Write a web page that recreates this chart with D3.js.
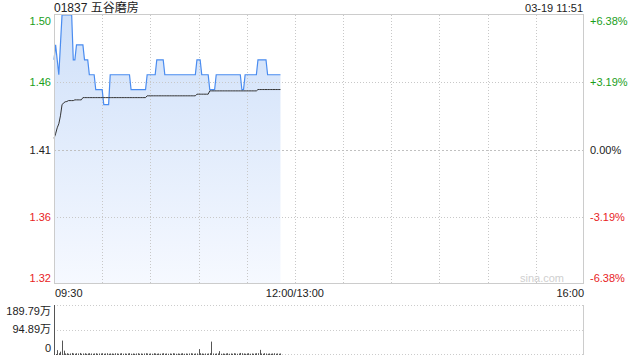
<!DOCTYPE html>
<html>
<head>
<meta charset="utf-8">
<script src="https://cdn.jsdelivr.net/npm/d3@7"></script>
<style>
  body { margin: 0; background: #fff; }
  text { font-family: "Liberation Sans", Arial, "Noto Sans CJK SC", sans-serif; }
</style>
</head>
<body>
<div id="chart"></div>
<script>
// stock info
const title = "01837 五谷磨房";
const stamp = "03-19 11:51";
const prevClose = 1.41;
const pctMax = 6.38;

// axis labels
const pctTicks = [6.38, 3.19, 0, -3.19, -6.38];
const priceLabels = ["1.50", "1.46", "1.41", "1.36", "1.32"];
const pctLabels = ["+6.38%", "+3.19%", "0.00%", "-3.19%", "-6.38%"];
const timeTicks = [0, 150, 330];
const timeLabels = ["09:30", "12:00/13:00", "16:00"];
const volTicks = [189.79, 94.89, 0];
const volLabels = ["189.79万", "94.89万", "0"];

// one value per minute from 09:30
const prices = [
  1.47, 1.48, 1.47, 1.46, 1.48, 1.50, 1.50, 1.50, 1.50, 1.50,
  1.50, 1.50, 1.47, 1.47, 1.48, 1.48, 1.48, 1.48, 1.48, 1.47,
  1.47, 1.47, 1.46, 1.46, 1.46, 1.46, 1.45, 1.45, 1.45, 1.45,
  1.45, 1.44, 1.44, 1.44, 1.44, 1.46, 1.46, 1.46, 1.46, 1.46,
  1.46, 1.46, 1.46, 1.46, 1.46, 1.46, 1.46, 1.46, 1.45, 1.45,
  1.45, 1.45, 1.45, 1.45, 1.45, 1.45, 1.45, 1.45, 1.46, 1.46,
  1.46, 1.46, 1.46, 1.46, 1.47, 1.47, 1.47, 1.47, 1.47, 1.46,
  1.46, 1.46, 1.46, 1.46, 1.46, 1.46, 1.46, 1.46, 1.46, 1.46,
  1.46, 1.46, 1.46, 1.46, 1.46, 1.46, 1.46, 1.46, 1.46, 1.47,
  1.47, 1.47, 1.46, 1.46, 1.46, 1.46, 1.46, 1.45, 1.45, 1.45,
  1.45, 1.46, 1.46, 1.46, 1.46, 1.46, 1.46, 1.46, 1.46, 1.46,
  1.46, 1.46, 1.46, 1.46, 1.46, 1.46, 1.46, 1.45, 1.45, 1.46,
  1.46, 1.46, 1.46, 1.46, 1.46, 1.46, 1.46, 1.47, 1.47, 1.47,
  1.47, 1.47, 1.47, 1.46, 1.46, 1.46, 1.46, 1.46, 1.46, 1.46,
  1.46, 1.46
];

const avgPrices = [
  1.4175, 1.4205, 1.4245, 1.4272, 1.4325, 1.4399, 1.4412, 1.4419, 1.4421, 1.4427,
  1.4427, 1.4427, 1.4427, 1.4432, 1.4432, 1.4432, 1.4432, 1.4432, 1.4447, 1.4447,
  1.4447, 1.4447, 1.4447, 1.4447, 1.4447, 1.4447, 1.4447, 1.4447, 1.4447, 1.4447,
  1.4447, 1.4447, 1.4447, 1.4447, 1.4447, 1.4447, 1.4447, 1.4447, 1.4447, 1.4447,
  1.4447, 1.4447, 1.4447, 1.4447, 1.4447, 1.4447, 1.4447, 1.4447, 1.4447, 1.4447,
  1.4447, 1.4447, 1.4447, 1.4447, 1.4447, 1.4447, 1.4447, 1.4447, 1.4459, 1.4459,
  1.4459, 1.4459, 1.4459, 1.4459, 1.4459, 1.4459, 1.4459, 1.4459, 1.4459, 1.4459,
  1.4459, 1.4459, 1.4459, 1.4459, 1.4459, 1.4459, 1.4459, 1.4459, 1.4459, 1.4459,
  1.4459, 1.4459, 1.4459, 1.4459, 1.4459, 1.4459, 1.4459, 1.4459, 1.4459, 1.4470,
  1.4470, 1.4470, 1.4470, 1.4470, 1.4470, 1.4470, 1.4470, 1.4492, 1.4492, 1.4492,
  1.4492, 1.4492, 1.4492, 1.4492, 1.4492, 1.4492, 1.4492, 1.4492, 1.4492, 1.4492,
  1.4492, 1.4492, 1.4492, 1.4492, 1.4492, 1.4492, 1.4492, 1.4492, 1.4492, 1.4492,
  1.4492, 1.4492, 1.4492, 1.4492, 1.4492, 1.4492, 1.4492, 1.4501, 1.4501, 1.4501,
  1.4501, 1.4501, 1.4501, 1.4501, 1.4501, 1.4501, 1.4501, 1.4501, 1.4501, 1.4501,
  1.4501, 1.4501
];

// volume in 万
const volumes = [
  189.79, 0, 15, 3, 9, 52, 13, 2, 3, 1, 2, 4, 2, 1, 3, 2, 4, 1, 2, 3,
  1, 2, 3, 2, 1, 2, 3, 1, 2, 2, 3, 1, 2, 3, 1, 2, 2, 1, 3, 2,
  1, 2, 3, 1, 2, 1, 2, 3, 1, 2, 1, 2, 3, 1, 2, 1, 2, 3, 2, 1,
  2, 1, 3, 2, 1, 2, 1, 2, 3, 1, 2, 1, 2, 1, 3, 2, 1, 2, 1, 2,
  3, 1, 2, 1, 2, 3, 2, 1, 2, 2, 19, 3, 2, 1, 2, 1, 2, 3, 48, 2,
  1, 2, 2, 11, 1, 2, 1, 2, 3, 1, 2, 1, 3, 2, 1, 2, 4, 3, 2, 1,
  2, 3, 1, 2, 1, 2, 3, 3, 16, 2, 1, 3, 2, 1, 2, 1, 2, 3, 1, 2,
  1, 2
];

const W = 640, H = 360;
const plotLeft = 54, plotRight = 584, plotTop = 15, plotBottom = 284;
const volTop = 305, volBottom = 354;

const svg = d3.select("#chart").append("svg")
  .attr("width", W).attr("height", H);

const x = d3.scaleLinear().domain([0, 330]).range([plotLeft, plotRight]);
const yPct = d3.scaleLinear().domain([-pctMax, pctMax]).range([plotBottom, plotTop]);
const y = d3.scaleLinear()
  .domain([prevClose * (1 - pctMax / 100), prevClose * (1 + pctMax / 100)])
  .range([plotBottom, plotTop]);
const yVol = d3.scaleLinear().domain([0, 189.79]).range([volBottom, volTop]);

const green = "#1a9e1a", red = "#e8231e";
const tickColor = v => v > 0 ? green : (v < 0 ? red : "#222");

// gradient for the area
const grad = svg.append("defs").append("linearGradient")
  .attr("id", "fillGrad").attr("gradientUnits", "userSpaceOnUse")
  .attr("x1", 0).attr("x2", 0).attr("y1", plotTop).attr("y2", plotBottom);
grad.append("stop").attr("offset", "0%").attr("stop-color", "#cfe0f9");
grad.append("stop").attr("offset", "100%").attr("stop-color", "#f6f9ff");

const data = prices.map((p, i) => ({ t: i, p: p, a: avgPrices[i] }));

// area first so the grid shows through it
svg.append("path").datum(data)
  .attr("d", d3.area().x(d => x(d.t)).y0(plotBottom).y1(d => y(d.p)))
  .attr("fill", "url(#fillGrad)");

// grid
const vGrid = d3.range(30, 330, 30);
svg.append("g").selectAll("line").data(vGrid).enter().append("line")
  .attr("x1", d => Math.round(x(d)) + 0.5).attr("x2", d => Math.round(x(d)) + 0.5)
  .attr("y1", plotTop).attr("y2", plotBottom)
  .attr("stroke", "#c8c8c8").attr("stroke-dasharray", "1,2");

svg.append("g").selectAll("line").data([3.19, -3.19]).enter().append("line")
  .attr("x1", plotLeft).attr("x2", plotRight)
  .attr("y1", d => Math.round(yPct(d)) + 0.5).attr("y2", d => Math.round(yPct(d)) + 0.5)
  .attr("stroke", "#c8c8c8").attr("stroke-dasharray", "1,2");

svg.append("line")
  .attr("x1", plotLeft).attr("x2", plotRight)
  .attr("y1", Math.round(yPct(0)) + 0.5).attr("y2", Math.round(yPct(0)) + 0.5)
  .attr("stroke", "#c0c0c0").attr("stroke-dasharray", "2,2");

// price and average lines
svg.append("path").datum(data)
  .attr("d", d3.line().x(d => x(d.t)).y(d => y(d.p)))
  .attr("fill", "none").attr("stroke", "#4a8cf0").attr("stroke-width", 1.2);

svg.append("path").datum(data)
  .attr("d", d3.line().x(d => x(d.t)).y(d => y(d.a)))
  .attr("fill", "none").attr("stroke", "#333").attr("stroke-width", 1);

// frame
svg.append("rect")
  .attr("x", plotLeft + 0.5).attr("y", plotTop - 0.5)
  .attr("width", plotRight - plotLeft - 1).attr("height", plotBottom - plotTop)
  .attr("fill", "none").attr("stroke", "#ccc");

// price labels left, percent labels right
const leftAxis = svg.append("g")
  .attr("transform", `translate(${plotLeft},0)`)
  .call(d3.axisLeft(yPct).tickValues(pctTicks).tickSize(0).tickPadding(3)
    .tickFormat((d, i) => priceLabels[i]));
leftAxis.select(".domain").remove();

const rightAxis = svg.append("g")
  .attr("transform", `translate(${plotRight + 3},0)`)
  .call(d3.axisRight(yPct).tickValues(pctTicks).tickSize(0).tickPadding(3)
    .tickFormat((d, i) => pctLabels[i]));
rightAxis.select(".domain").remove();

[leftAxis, rightAxis].forEach(g => {
  g.selectAll("text")
    .attr("fill", d => tickColor(d))
    .style("font-size", "11px")
    .style("font-family", "'Liberation Sans', Arial, sans-serif")
    .attr("dy", d => d === pctMax ? "0.9em" : (d === -pctMax ? "-0.2em" : "0.32em"));
});

// time labels
svg.append("g").selectAll("text").data(timeTicks).enter().append("text")
  .attr("x", (d, i) => i === 0 ? x(d) + 1 : x(d))
  .attr("y", 297)
  .attr("text-anchor", (d, i) => i === 0 ? "start" : (i === 2 ? "end" : "middle"))
  .attr("font-size", 11).attr("fill", "#222")
  .text((d, i) => timeLabels[i]);

// header
svg.append("text").attr("x", plotLeft).attr("y", 12)
  .attr("font-size", 12).attr("fill", "#222").text(title);
svg.append("text").attr("x", plotRight - 1).attr("y", 12)
  .attr("text-anchor", "end").attr("font-size", 11).attr("fill", "#222").text(stamp);

// watermark
svg.append("text").attr("x", 564).attr("y", 282)
  .attr("text-anchor", "end").attr("font-size", 11).attr("fill", "#cfcfcf").text("sina.com");

// volume panel
svg.append("g").selectAll("line").data(volTicks).enter().append("line")
  .attr("x1", plotLeft).attr("x2", plotRight)
  .attr("y1", d => Math.round(yVol(d)) + 0.5).attr("y2", d => Math.round(yVol(d)) + 0.5)
  .attr("stroke", "#ccc").attr("stroke-dasharray", "1,2");

svg.append("line")
  .attr("x1", plotRight - 0.5).attr("x2", plotRight - 0.5)
  .attr("y1", volTop).attr("y2", volBottom + 1)
  .attr("stroke", "#ccc");
svg.append("line")
  .attr("x1", plotLeft + 0.5).attr("x2", plotLeft + 0.5)
  .attr("y1", volTop).attr("y2", volBottom + 1)
  .attr("stroke", "#ccc");

svg.append("g").selectAll("line").data(volumes).enter().append("line")
  .attr("x1", (d, i) => Math.round(x(i)) + 0.5).attr("x2", (d, i) => Math.round(x(i)) + 0.5)
  .attr("y1", volBottom + 1).attr("y2", d => yVol(d))
  .attr("stroke", "#555").attr("stroke-width", 1);

svg.append("g").selectAll("text").data(volTicks).enter().append("text")
  .attr("x", plotLeft - 3)
  .attr("y", d => yVol(d))
  .attr("dy", (d, i) => i === 0 ? "0.9em" : (i === 2 ? "-0.2em" : "0.32em"))
  .attr("text-anchor", "end").attr("font-size", 11).attr("fill", "#222")
  .text((d, i) => volLabels[i]);
</script>
</body>
</html>
